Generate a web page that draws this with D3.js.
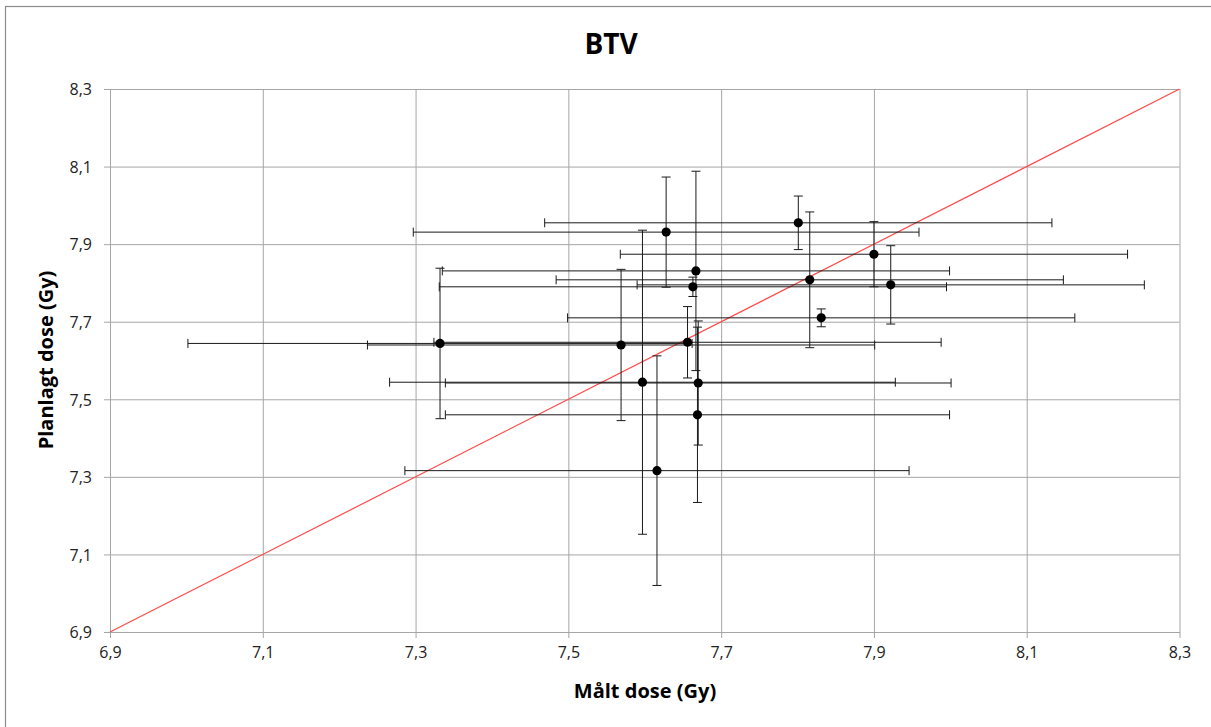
<!DOCTYPE html>
<html>
<head>
<meta charset="utf-8">
<script src="https://cdn.jsdelivr.net/npm/d3@7"></script>
<style>
  html, body { margin: 0; padding: 0; background: #fff; }
  svg { display: block; }
  text { font-family: "Open Sans", "Liberation Sans", sans-serif; }
</style>
</head>
<body>
<svg id="chart" width="1211" height="727"></svg>
<script>
// ---- data ----
const measured    = [7.628, 7.667, 7.663, 7.332, 7.569, 7.656, 7.597, 7.670, 7.669, 7.616, 7.801, 7.900, 7.816, 7.922, 7.831];
const planned     = [7.931, 7.831, 7.790, 7.644, 7.640, 7.647, 7.544, 7.542, 7.460, 7.316, 7.955, 7.874, 7.808, 7.795, 7.710];
const measuredErr = [0.331, 0.332, 0.332, 0.330, 0.332, 0.332, 0.331, 0.331, 0.330, 0.330, 0.332, 0.332, 0.332, 0.332, 0.332];
const plannedErr  = [0.142, 0.257, 0.025, 0.194, 0.195, 0.092, 0.392, 0.160, 0.226, 0.296, 0.069, 0.084, 0.175, 0.101, 0.023];
const xTicks = [6.9, 7.1, 7.3, 7.5, 7.7, 7.9, 8.1, 8.3];
const yTicks = [6.9, 7.1, 7.3, 7.5, 7.7, 7.9, 8.1, 8.3];
const identityLine = [6.9, 8.3];
const chartTitle = "BTV";
const xTitle = "Målt dose (Gy)";
const yTitle = "Planlagt dose (Gy)";

const points = measured.map((m, i) => ({x: m, y: planned[i], ex: measuredErr[i], ey: plannedErr[i]}));

// ---- layout ----
const svg = d3.select("#chart");
const pLeft = 110, pRight = 1179.5, pTop = 89, pBottom = 632;
const x = d3.scaleLinear().domain([6.9, 8.3]).range([pLeft, pRight]);
const y = d3.scaleLinear().domain([6.9, 8.3]).range([pBottom, pTop]);
const fmt = v => d3.format(".1f")(v).replace(".", ",");

// outer chart border (left/top visible)
svg.append("rect").attr("x", 5.5).attr("y", 6.5).attr("width", 1210).attr("height", 730)
  .attr("fill", "none").attr("stroke", "#8c8c8c").attr("stroke-width", 1.2);

// gridlines via axes
const gx = svg.append("g").attr("transform", `translate(0,${pBottom})`)
  .call(d3.axisBottom(x).tickValues(xTicks).tickSize(-(pBottom - pTop)).tickSizeOuter(0).tickFormat(""));
gx.select(".domain").remove();
gx.selectAll(".tick line").attr("stroke", "#a6a6a6").attr("stroke-width", 1);

const gy = svg.append("g").attr("transform", `translate(${pLeft},0)`)
  .call(d3.axisLeft(y).tickValues(yTicks).tickSize(-(pRight - pLeft)).tickSizeOuter(0).tickFormat(""));
gy.select(".domain").remove();
gy.selectAll(".tick line").attr("stroke", "#a6a6a6").attr("stroke-width", 1);

// outside tick marks + labels
const ax = svg.append("g").attr("transform", `translate(0,${pBottom})`)
  .call(d3.axisBottom(x).tickValues(xTicks).tickSize(6).tickSizeOuter(0).tickPadding(11).tickFormat(fmt));
ax.select(".domain").attr("stroke", "#a6a6a6");
ax.selectAll(".tick line").attr("stroke", "#a6a6a6");
ax.selectAll(".tick text").attr("font-size", 16).attr("fill", "#222").attr("dy", "0.71em")
  .attr("y", 15);

const ay = svg.append("g").attr("transform", `translate(${pLeft},0)`)
  .call(d3.axisLeft(y).tickValues(yTicks).tickSize(6).tickSizeOuter(0).tickPadding(12).tickFormat(fmt));
ay.select(".domain").attr("stroke", "#a6a6a6");
ay.selectAll(".tick line").attr("stroke", "#a6a6a6");
ay.selectAll(".tick text").attr("font-size", 16).attr("fill", "#222").attr("x", -18).attr("dy", "0.36em");

// identity line
svg.append("line")
  .attr("x1", x(identityLine[0])).attr("y1", y(identityLine[0]))
  .attr("x2", x(identityLine[1])).attr("y2", y(identityLine[1]))
  .attr("stroke", "#ff4a4a").attr("stroke-width", 1.2);

// error bars
const eb = svg.append("g").attr("stroke", "#1a1a1a").attr("stroke-width", 1).attr("fill", "none");
const cap = 4.5;
points.forEach(p => {
  const cx = x(p.x), cy = y(p.y);
  const x0 = x(p.x - p.ex), x1 = x(p.x + p.ex);
  const y0 = y(p.y + p.ey), y1 = y(p.y - p.ey);
  eb.append("line").attr("x1", x0).attr("x2", x1).attr("y1", cy).attr("y2", cy);
  eb.append("line").attr("x1", x0).attr("x2", x0).attr("y1", cy - cap).attr("y2", cy + cap);
  eb.append("line").attr("x1", x1).attr("x2", x1).attr("y1", cy - cap).attr("y2", cy + cap);
  eb.append("line").attr("x1", cx).attr("x2", cx).attr("y1", y0).attr("y2", y1);
  eb.append("line").attr("x1", cx - cap).attr("x2", cx + cap).attr("y1", y0).attr("y2", y0);
  eb.append("line").attr("x1", cx - cap).attr("x2", cx + cap).attr("y1", y1).attr("y2", y1);
});

// points
svg.append("g").selectAll("circle").data(points).join("circle")
  .attr("cx", d => x(d.x)).attr("cy", d => y(d.y)).attr("r", 4.6).attr("fill", "#000");

// titles
svg.append("text").attr("x", 611).attr("y", 54).attr("text-anchor", "middle")
  .attr("font-size", 28).attr("font-weight", "bold").attr("fill", "#000").text(chartTitle);
svg.append("text").attr("x", 645).attr("y", 698).attr("text-anchor", "middle")
  .attr("font-size", 20).attr("font-weight", "bold").attr("fill", "#000").text(xTitle);
svg.append("text").attr("transform", "translate(52.5,360) rotate(-90)").attr("text-anchor", "middle")
  .attr("font-size", 20).attr("font-weight", "bold").attr("fill", "#000").text(yTitle);
</script>
</body>
</html>
